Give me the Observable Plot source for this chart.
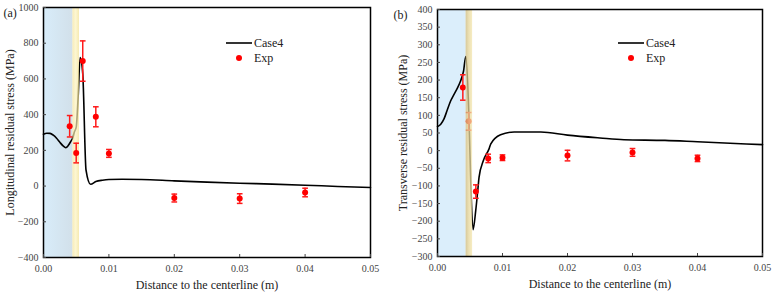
<!DOCTYPE html>
<html><head><meta charset="utf-8">
<script src="https://cdn.jsdelivr.net/npm/d3@7"></script>
<script src="https://cdn.jsdelivr.net/npm/@observablehq/plot@0.6"></script>
<style>
body{margin:0;background:#fff;}
#wrap{display:flex;width:774px;height:294px;}
#wrap svg{overflow:visible;}
#wrap svg text{font-family:"Liberation Serif","Times New Roman",serif;}
</style></head><body><div id="wrap"></div>
<script>
// ---------- data ----------
const xTicks = [0, 0.01, 0.02, 0.03, 0.04, 0.05];
const yTicksA = [-400, -200, 0, 200, 400, 600, 800, 1000];
const yTicksB = [-300, -250, -200, -150, -100, -50, 0, 50, 100, 150, 200, 250, 300, 350, 400];

const caseA_x = [0, 0.0005, 0.001, 0.0015, 0.002, 0.0025, 0.003, 0.0034, 0.0038, 0.0042, 0.0045, 0.0047, 0.005, 0.0053, 0.0056, 0.006, 0.0065, 0.0072, 0.008, 0.009, 0.01, 0.012, 0.015, 0.02, 0.025, 0.03, 0.035, 0.04, 0.045, 0.05];
const caseA_y = [290, 296, 295, 285, 268, 245, 225, 215, 228, 252, 272, 300, 330, 500, 720, 630, 90, 10, 25, 33, 37, 38, 37, 29, 22, 16, 11, 5, -2, -8];

const expA_x = [0.004, 0.005, 0.006, 0.008, 0.01, 0.02, 0.03, 0.04];
const expA_y = [335, 185, 700, 388, 183, -67, -70, -36];
const expA_err = [60, 55, 113, 56, 22, 22, 27, 24];

const caseB_x = [0, 0.0005, 0.001, 0.0015, 0.002, 0.0025, 0.003, 0.0035, 0.004, 0.00435, 0.00486, 0.00511, 0.00547, 0.00588, 0.00624, 0.00639, 0.00706, 0.00793, 0.0082, 0.0097, 0.0118, 0.0159, 0.02, 0.025, 0.0287, 0.035, 0.04, 0.045, 0.05];
const caseB_y = [68, 75, 90, 115, 140, 158, 175, 195, 225, 267, 85, -85, -224, -170, -104, -76, -28, 5, 19, 45, 53, 53, 44, 36, 31, 29, 25, 21, 17];

const expB_x = [0.0039, 0.0048, 0.0059, 0.0078, 0.01, 0.02, 0.03, 0.04];
const expB_y = [179, 83, -116, -22, -20, -14, -5, -22];
const expB_err = [36, 25, 19, 12, 8, 15, 11, 9];

const zonesA = {blue: [0, 0.0045], yellow: [0.0045, 0.0055]};
const zonesB = {blue: [0, 0.0044], yellow: [0.0044, 0.0054]};

// ---------- helpers ----------
const FONT = "Liberation Serif, Times New Roman, serif";
const capSymbol = {draw(ctx, size) { const w = Math.sqrt(size) / 2; ctx.moveTo(-w, 0); ctx.lineTo(w, 0); }};
const fmtY = d => d < 0 ? "\u2212" + Math.abs(d) : String(d);

function panel({w, ml, mr, mt, mb, yDom, yTicks, zones, cx, cy, ex, ey, ee, blueFill, yellowFill, yellowOpacity, yellowOnTop, tag, ylabel, yLabelDx}) {
  const line = cx.map((x, i) => ({x, y: cy[i]}));
  const exp = ex.map((x, i) => ({x, y: ey[i], lo: ey[i] - ee[i], hi: ey[i] + ee[i]}));
  const yellowMark = Plot.rect([{x1: zones.yellow[0], x2: zones.yellow[1]}], {x1: "x1", x2: "x2", fill: yellowFill, fillOpacity: yellowOpacity});
  const expMarks = [
    Plot.ruleX(exp, {x: "x", y1: "lo", y2: "hi", stroke: "#ff1a1a", strokeWidth: 1.5}),
    Plot.dot(exp, {x: "x", y: "lo", symbol: capSymbol, r: 3.2, stroke: "#ff1a1a", strokeWidth: 1.5}),
    Plot.dot(exp, {x: "x", y: "hi", symbol: capSymbol, r: 3.2, stroke: "#ff1a1a", strokeWidth: 1.5}),
    Plot.dot(exp, {x: "x", y: "y", r: 3, fill: "#ff0000", stroke: "none"})
  ];
  const marks = [
    Plot.rect([{x1: zones.blue[0], x2: zones.blue[1]}], {x1: "x1", x2: "x2", fill: blueFill}),
    Plot.line(line, {x: "x", y: "y", stroke: "#000", strokeWidth: 1.6, curve: "monotone-x"}),
    ...(yellowOnTop ? [...expMarks, yellowMark] : [yellowMark, ...expMarks]),
    Plot.frame({stroke: "#000", strokeWidth: 1.5}),
    Plot.axisX(xTicks, {tickSize: -3, tickPadding: 10, tickFormat: d3.format(".2f"), fontSize: 10, color: "#444", label: null}),
    Plot.axisY(yTicks, {tickSize: -3, tickPadding: 8, tickFormat: fmtY, fontSize: 10, color: "#444", label: null}),
    Plot.text(["Distance to the centerline (m)"], {frameAnchor: "bottom", dy: 28, fontSize: 12, fill: "#222", textAnchor: "middle", lineAnchor: "middle"}),
    Plot.text([ylabel], {frameAnchor: "left", dx: yLabelDx, rotate: -90, fontSize: 12, fill: "#222", textAnchor: "middle", lineAnchor: "middle"}),
    Plot.text([tag], {frameAnchor: "top-left", dx: -ml + 3, dy: 6, fontSize: 12, textAnchor: "start", lineAnchor: "middle", fill: "#222"})
  ];
  return Plot.plot({
    width: w, height: 294, marginLeft: ml, marginRight: mr, marginTop: mt, marginBottom: mb,
    style: {fontFamily: FONT, overflow: "visible"},
    x: {domain: [0, 0.05]}, y: {domain: yDom},
    marks
  });
}

function addDefs(svg, defsHtml) {
  d3.select(svg).insert("defs", ":first-child").html(defsHtml);
}

function addLegend(svg, lx, ly) {
  const g = d3.select(svg).append("g").attr("font-family", FONT).attr("font-size", 12).attr("text-anchor", "start").attr("fill", "#222");
  g.append("line").attr("x1", lx).attr("x2", lx + 26).attr("y1", ly).attr("y2", ly).attr("stroke", "#000").attr("stroke-width", 1.6);
  g.append("text").attr("x", lx + 28).attr("y", ly).attr("dy", "0.35em").text("Case4");
  g.append("circle").attr("cx", lx + 13).attr("cy", ly + 15).attr("r", 3).attr("fill", "#ff0000");
  g.append("text").attr("x", lx + 28).attr("y", ly + 15).attr("dy", "0.35em").text("Exp");
}

const wrap = document.getElementById("wrap");

const svgA = panel({w: 390, ml: 43, mr: 20, mt: 7, mb: 37, yDom: [-400, 1000], yTicks: yTicksA, zones: zonesA,
  cx: caseA_x, cy: caseA_y, ex: expA_x, ey: expA_y, ee: expA_err,
  blueFill: "url(#blueA)", yellowFill: "url(#yelA)", yellowOpacity: 0.7, yellowOnTop: false,
  tag: "(a)", ylabel: "Longitudinal residual stress (MPa)", yLabelDx: -33});
addDefs(svgA, `<linearGradient id="blueA" x1="0" x2="1" y1="0" y2="0"><stop offset="0" stop-color="#d8edfa"/><stop offset="1" stop-color="#d2e0ea"/></linearGradient>
<linearGradient id="yelA" x1="0" x2="1" y1="0" y2="0"><stop offset="0" stop-color="#f5e49a"/><stop offset="0.5" stop-color="#fbf3c0"/><stop offset="1" stop-color="#f2e08e"/></linearGradient>`);
addLegend(svgA, 226, 43);
wrap.appendChild(svgA);

const svgB = panel({w: 384, ml: 47, mr: 12, mt: 9, mb: 38, yDom: [-300, 400], yTicks: yTicksB, zones: zonesB,
  cx: caseB_x, cy: caseB_y, ex: expB_x, ey: expB_y, ee: expB_err,
  blueFill: "#dbeefb", yellowFill: "url(#yelB)", yellowOpacity: 0.75, yellowOnTop: true,
  tag: "(b)", ylabel: "Transverse residual stress (MPa)", yLabelDx: -34});
addDefs(svgB, `<linearGradient id="yelB" x1="0" x2="1" y1="0" y2="0"><stop offset="0" stop-color="#c9b77a"/><stop offset="0.5" stop-color="#e6d69a"/><stop offset="1" stop-color="#f3e6ae"/></linearGradient>`);
addLegend(svgB, 228, 43);
wrap.appendChild(svgB);
</script></body></html>
